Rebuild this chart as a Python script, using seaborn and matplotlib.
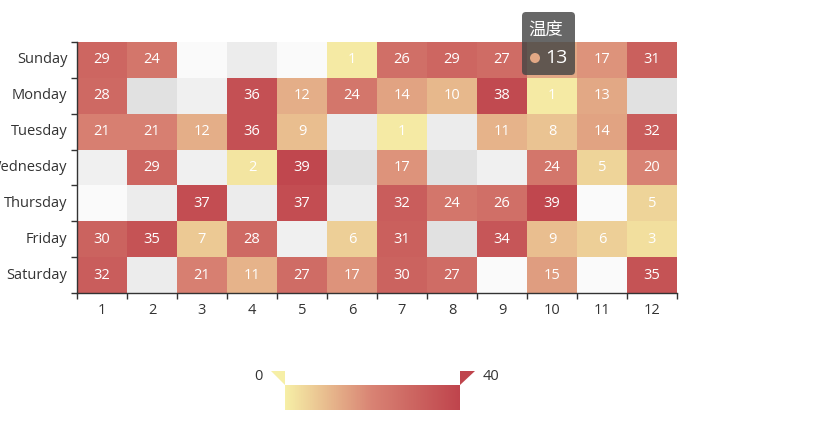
import numpy as np
import pandas as pd
import matplotlib
matplotlib.use("Agg")
import matplotlib.pyplot as plt
import seaborn as sns
from matplotlib.colors import LinearSegmentedColormap, ListedColormap
from matplotlib.patches import Polygon, FancyBboxPatch, Circle
from matplotlib.transforms import Affine2D

# ---------------- data ----------------
days = ["Sunday", "Monday", "Tuesday", "Wednesday", "Thursday", "Friday", "Saturday"]
months = ["1", "2", "3", "4", "5", "6", "7", "8", "9", "10", "11", "12"]
N = np.nan
sunday    = [29, 24, N, N, N, 1, 26, 29, 27, 13, 17, 31]
monday    = [28, N, N, 36, 12, 24, 14, 10, 38, 1, 13, N]
tuesday   = [21, 21, 12, 36, 9, N, 1, N, 11, 8, 14, 32]
wednesday = [N, 29, N, 2, 39, N, 17, N, N, 24, 5, 20]
thursday  = [N, N, 37, N, 37, N, 32, 24, 26, 39, N, 5]
friday    = [30, 35, 7, 28, N, 6, 31, N, 34, 9, 6, 3]
saturday  = [32, N, 21, 11, 27, 17, 30, 27, N, 15, N, 35]
vmin, vmax = 0, 40
palette = ["#f6efa6", "#d88273", "#bf444c"]
series_name = "温度"
tooltip_day, tooltip_month = "Sunday", "10"

df = pd.DataFrame([sunday, monday, tuesday, wednesday, thursday, friday, saturday],
                  index=days, columns=months)

# ---------------- style ----------------
sns.set_theme(style="white")
plt.rcParams["font.family"] = ["Open Sans", "Noto Sans CJK SC", "DejaVu Sans"]
TXT = "#333333"

W, H = 815, 448
fig = plt.figure(figsize=(W / 100, H / 100), dpi=100)
PX = Affine2D().scale(1 / 100, -1 / 100).translate(0, H / 100) + fig.dpi_scale_trans

ax = fig.add_axes([77 / W, 1 - 293 / H, 600 / W, 251 / H])

# split-area background (alternating stripes of both axes)
ri, ci = np.indices(df.shape)
bg = pd.DataFrame((ri % 2) * 2 + (ci % 2), index=days, columns=months)
sns.heatmap(bg, ax=ax, cmap=ListedColormap(["#fafafa", "#ececec", "#f0f0f0", "#e1e1e1"]),
            vmin=-0.5, vmax=3.5, cbar=False, xticklabels=months, yticklabels=days)

cmap = LinearSegmentedColormap.from_list("temp", palette)
n_before = len(ax.texts)
sns.heatmap(df, ax=ax, cmap=cmap, vmin=vmin, vmax=vmax, cbar=False,
            annot=True, fmt=".0f", annot_kws=dict(color="white", fontsize=10.5),
            xticklabels=months, yticklabels=days)

# the annotation of the hovered cell is hidden under the tooltip
tr = days.index(tooltip_day)
tc = months.index(tooltip_month)
for t in ax.texts[n_before:]:
    x, y = t.get_position()
    if abs(x - (tc + 0.5)) < 0.01 and abs(y - (tr + 0.5)) < 0.01:
        t.set_visible(False)

# axes / ticks
ax.set_xticks(np.arange(len(months)) + 0.5)
ax.set_xticklabels(months, rotation=0, color=TXT, fontsize=10.5)
ax.set_yticks(np.arange(len(days)) + 0.5)
ax.set_yticklabels(days, rotation=0, color=TXT, fontsize=10.5)
ax.set_xticks(np.arange(len(months) + 1), minor=True)
ax.set_yticks(np.arange(len(days) + 1), minor=True)
ax.tick_params(axis="x", which="major", length=0, pad=7)
ax.tick_params(axis="y", which="major", length=0, pad=7)
ax.tick_params(which="minor", length=4.5, width=1, color=TXT, direction="out",
               bottom=True, left=True)
ax.set_xlabel("")
ax.set_ylabel("")
for s in ["left", "bottom"]:
    ax.spines[s].set_visible(True)
    ax.spines[s].set_color(TXT)
    ax.spines[s].set_linewidth(1)
for s in ["top", "right"]:
    ax.spines[s].set_visible(False)

# ---------------- visual map ----------------
cax = fig.add_axes([285 / W, 1 - 410 / H, 175 / W, 25 / H])
cb = fig.colorbar(ax.collections[1], cax=cax, orientation="horizontal")
cb.outline.set_visible(False)
cb.set_ticks([])
fig.patches.append(Polygon([(271, 371), (285, 371), (285, 385)], closed=True,
                           facecolor=cmap(0.0), edgecolor="none", transform=PX))
fig.patches.append(Polygon([(460, 371), (475, 371), (460, 385)], closed=True,
                           facecolor=cmap(1.0), edgecolor="none", transform=PX))
fig.text(258, 377, f"{vmin}", transform=PX, ha="center", va="center", fontsize=10.5, color=TXT)
fig.text(491, 377, f"{vmax}", transform=PX, ha="center", va="center", fontsize=10.5, color=TXT)

# ---------------- tooltip ----------------
tip_val = df.loc[tooltip_day, tooltip_month]
fig.patches.append(FancyBboxPatch((522, 12), 53, 63, boxstyle="round,pad=0,rounding_size=4",
                                  facecolor=(0.27, 0.27, 0.27, 0.82), edgecolor="none",
                                  transform=PX, zorder=10))
fig.text(546, 32, series_name, transform=PX, ha="center", va="center",
         fontsize=12.5, color="white", zorder=11)
fig.patches.append(Circle((535, 58), 5, facecolor=cmap((tip_val - vmin) / (vmax - vmin)),
                          edgecolor="none", transform=PX, zorder=11))
fig.text(545, 58, f"{tip_val:.0f}", transform=PX, ha="left", va="center",
         fontsize=14, color="white", zorder=11)

fig.savefig("out.png", dpi=100)
